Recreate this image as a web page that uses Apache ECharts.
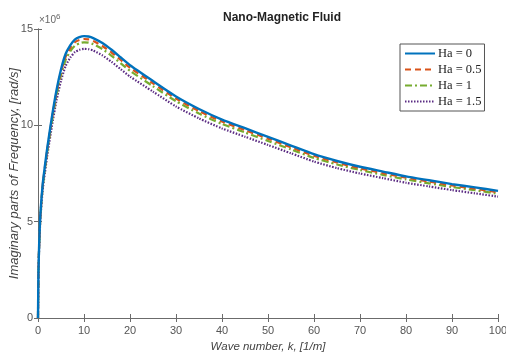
<!DOCTYPE html>
<html><head><meta charset="utf-8">
<script src="https://cdn.jsdelivr.net/npm/echarts@6/dist/echarts.min.js"></script>
<style>html,body{margin:0;padding:0;background:#fff}#c{width:506px;height:355px}</style>
</head><body><div id="c"></div>
<script>
var waveNumber = [0,0.1,0.25,0.5,1,1.5,2,3,4,5,6,7,8,9,10,11,12,14,16,18,20,25,30,35,40,45,50,55,60,65,70,75,80,85,90,95,100];
var ha0  = [0,2.4,3.8,5.3,6.9,7.9,8.8,10.4,11.8,12.9,13.7,14.15,14.45,14.58,14.63,14.61,14.53,14.27,13.92,13.52,13.12,12.3,11.5,10.85,10.3,9.85,9.4,8.95,8.5,8.15,7.85,7.6,7.35,7.15,6.95,6.78,6.6];
var ha05 = [0,2.38,3.76,5.25,6.83,7.82,8.71,10.3,11.68,12.77,13.56,14.01,14.31,14.43,14.48,14.46,14.38,14.12,13.78,13.39,12.99,12.18,11.39,10.74,10.2,9.75,9.31,8.86,8.42,8.07,7.77,7.52,7.28,7.08,6.88,6.71,6.53];
var ha1  = [0,2.35,3.72,5.18,6.75,7.73,8.61,10.17,11.54,12.62,13.4,13.84,14.13,14.26,14.31,14.29,14.21,13.96,13.61,13.22,12.83,12.03,11.25,10.61,10.07,9.63,9.19,8.75,8.31,7.97,7.68,7.43,7.19,6.99,6.8,6.63,6.45];
var ha15 = [0,2.29,3.63,5.06,6.59,7.54,8.4,9.93,11.27,12.32,13.08,13.51,13.8,13.92,13.97,13.95,13.88,13.63,13.29,12.91,12.53,11.75,10.98,10.36,9.84,9.41,8.98,8.55,8.12,7.78,7.5,7.26,7.02,6.83,6.64,6.47,6.3];
var seriesNames = ['Ha = 0','Ha = 0.5','Ha = 1','Ha = 1.5'];
var xTicks = [0,10,20,30,40,50,60,70,80,90,100];
var yTicks = [0,5,10,15];

function pairs(ys){ return waveNumber.map(function(k,i){ return [k, ys[i]]; }); }
var styles = [
  {color:'#0072BD', type:'solid', width:2.4},
  {color:'#D95319', type:[6,4], width:2.2},
  {color:'#77AC30', type:[7,3,2,3], width:2.2},
  {color:'#5B2C83', type:[1.5,1.5], width:2.2}
];
var datasets = [ha0, ha05, ha1, ha15];
var axisColor = '#6b6b6b';
var chart = echarts.init(document.getElementById('c'), null, {renderer:'canvas'});
var series = datasets.map(function(d,i){
  return {name: seriesNames[i], type:'line', data: pairs(d), symbol:'none', showSymbol:false, smooth:0.2,
    lineStyle:{color:styles[i].color, type:styles[i].type, width:styles[i].width},
    itemStyle:{color:styles[i].color}, z: 10-i};
});
chart.setOption({
  animation:false,
  title:{text:'Nano-Magnetic Fluid', left:277, textAlign:'center', top:7,
    textStyle:{fontFamily:'Liberation Sans, Arial', fontSize:12, fontWeight:'bold', color:'#222'}},
  grid:{left:38, right:8, top:29, bottom:37, containLabel:false, outerBoundsMode:'none'},
  legend:{orient:'vertical', left:400, top:44, itemWidth:30, itemHeight:11, itemGap:3,
    padding:[3,3,3,4], borderColor:'#555', borderWidth:1, backgroundColor:'#fff',
    itemStyle:{opacity:0},
    textStyle:{fontFamily:'Liberation Serif, Times New Roman', fontSize:12.5, color:'#222', padding:[0,0,0,-2]},
    data:seriesNames},
  xAxis:[{type:'value', min:0, max:100, interval:10, position:'bottom',
    name:'Wave number, k, [1/m]', nameLocation:'middle', nameGap:23, nameMoveOverlap:false,
    nameTextStyle:{fontFamily:'Liberation Sans, Arial', fontStyle:'italic', fontSize:11.5, color:'#444'},
    axisLine:{lineStyle:{color:axisColor}}, axisTick:{inside:true, length:4, lineStyle:{color:axisColor}},
    axisLabel:{color:'#555', fontSize:11, fontFamily:'Liberation Sans, Arial', margin:7}, splitLine:{show:false}},
   {type:'value', min:0, max:100, interval:10, position:'top',
    axisLine:{lineStyle:{color:axisColor}}, axisTick:{inside:true, length:4, lineStyle:{color:axisColor}},
    axisLabel:{show:false}, splitLine:{show:false}}],
  yAxis:[{type:'value', min:0, max:15, interval:5, position:'left',
    name:'Imaginary parts of Frequency, [rad/s]', nameLocation:'middle', nameGap:17, nameRotate:90, nameMoveOverlap:false,
    nameTextStyle:{fontFamily:'Liberation Sans, Arial', fontStyle:'italic', fontSize:13, color:'#444'},
    axisLine:{show:true, lineStyle:{color:axisColor}}, axisTick:{show:true, inside:true, length:4, lineStyle:{color:axisColor}},
    axisLabel:{color:'#555', fontSize:11, fontFamily:'Liberation Sans, Arial', margin:5}, splitLine:{show:false}},
   {type:'value', min:0, max:15, interval:5, position:'right',
    axisLine:{show:true, lineStyle:{color:axisColor}}, axisTick:{show:true, inside:true, length:4, lineStyle:{color:axisColor}},
    axisLabel:{show:false}, splitLine:{show:false}}],
  graphic:[{type:'text', left:39, top:13, style:{
    text:'×10{s|6}', rich:{s:{fontSize:8, verticalAlign:'top', fill:'#666', padding:[0,0,6,0]}},
    fill:'#666', fontSize:10, fontFamily:'Liberation Sans, Arial'}}],
  series: series
});
</script></body></html>
